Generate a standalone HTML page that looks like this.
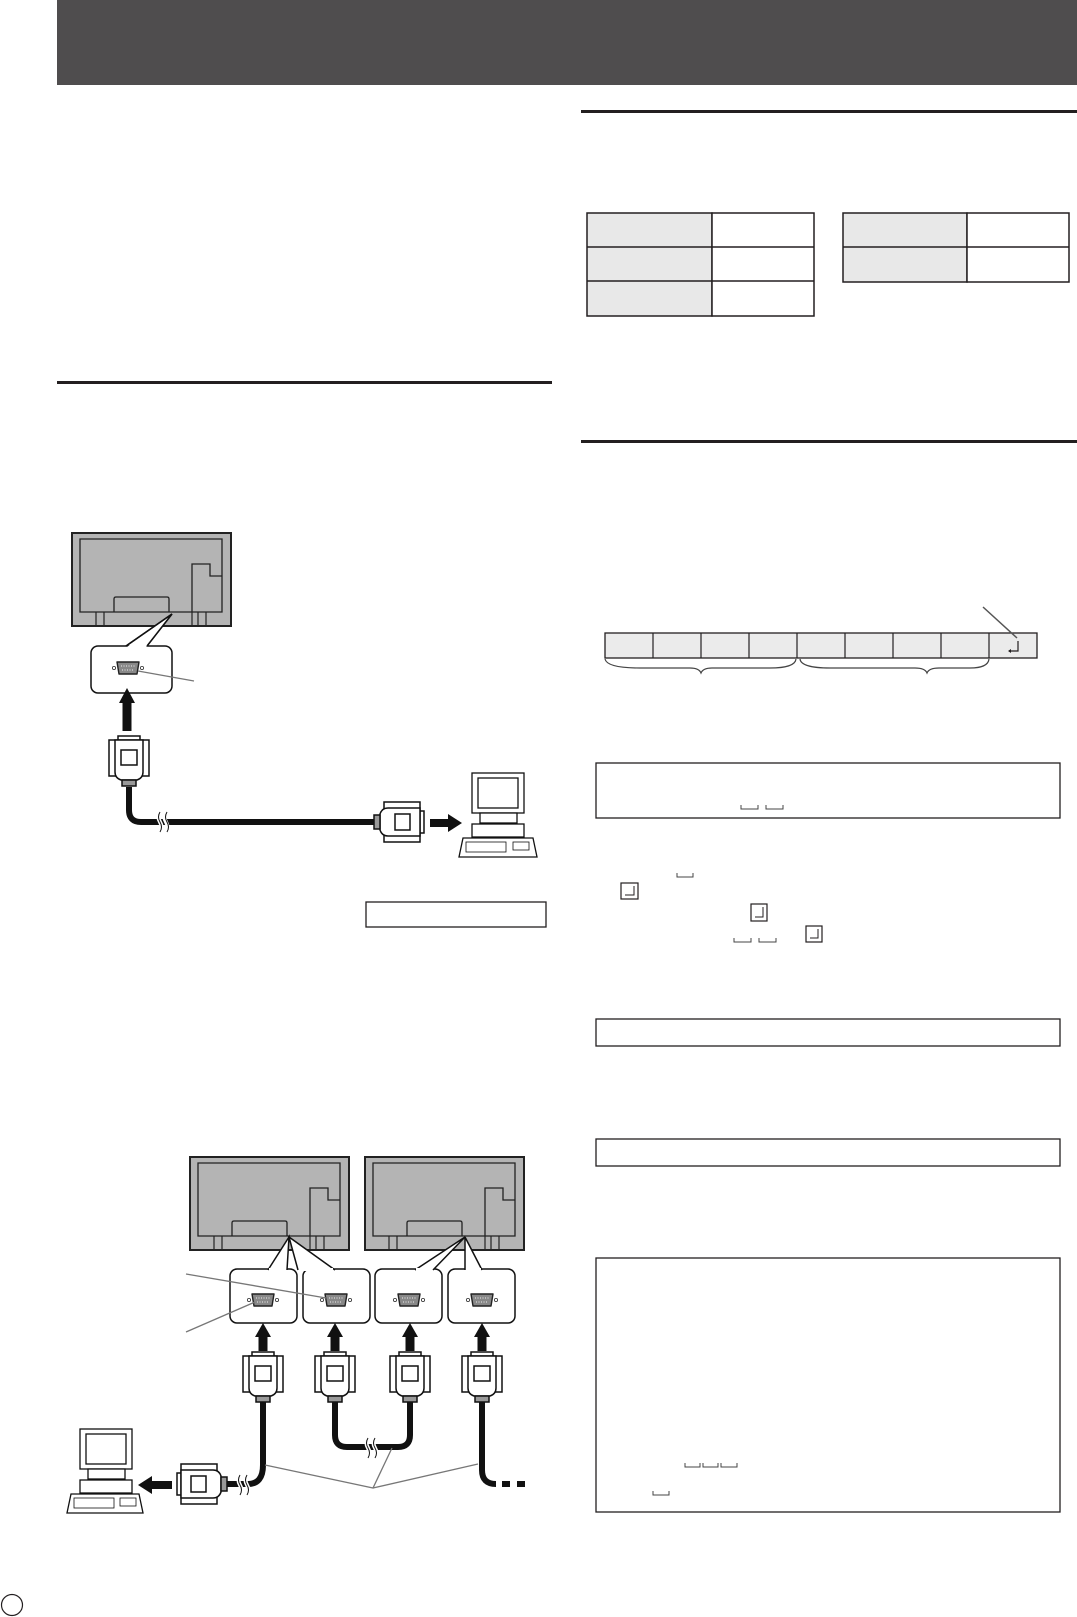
<!DOCTYPE html>
<html><head><meta charset="utf-8"><style>
html,body{margin:0;padding:0;background:#fff;}
svg{display:block;}
</style></head><body>
<svg width="1077" height="1617" viewBox="0 0 1077 1617" xmlns="http://www.w3.org/2000/svg" font-family="Liberation Sans, sans-serif">
<defs>
<g id="mon">
<rect x="0" y="0" width="159" height="93" fill="#b4b4b4" stroke="#222" stroke-width="2"/>
<path d="M8 79 V6 H150 V79 Z" fill="none" stroke="#222" stroke-width="1.3"/>
<path d="M120 79 V31 H138 V43 H150" fill="none" stroke="#222" stroke-width="1.3"/>
<path d="M42 79 V66 Q42 64 44 64 H95 Q97 64 97 66 V79" fill="none" stroke="#222" stroke-width="1.3"/>
<path d="M24 79 V93 M32 79 V93 M120 79 V93 M126 79 V93 M134 79 V93" stroke="#222" stroke-width="1.2"/>
</g>
<g id="port">
<circle cx="-14" cy="0" r="1.6" fill="none" stroke="#333" stroke-width="0.8"/>
<circle cx="14" cy="0" r="1.6" fill="none" stroke="#333" stroke-width="0.8"/>
<path d="M-11 -6 H11 L9 6 H-9 Z" fill="#888" stroke="#222" stroke-width="1.4" stroke-linejoin="round"/>
<path d="M-7 -2 H7 M-6 2 H6" stroke="#eee" stroke-width="1" stroke-dasharray="1 1.5"/>
</g>
<g id="vplug" stroke="#111" stroke-width="1.5" fill="#fff">
<rect x="-11" y="0" width="22" height="5"/>
<rect x="-20" y="4" width="40" height="36"/>
<path d="M-14 4 V36 Q-14 42 -8 44 H8 Q14 42 14 36 V4 Z"/>
<rect x="-8" y="14" width="16" height="15"/>
<rect x="-7" y="44" width="14" height="6" fill="#999"/>
</g>
<g id="callout">
<rect x="0" y="0" width="67" height="54" rx="7" fill="#fff" stroke="#111" stroke-width="1.5"/>
</g>
</defs>

<!-- header -->
<rect x="57" y="0" width="1020" height="85" fill="#4f4d4e"/>

<!-- rules -->
<rect x="581" y="110" width="496" height="3" fill="#231f20"/>
<rect x="57" y="381" width="495" height="3" fill="#231f20"/>
<rect x="581" y="440" width="496" height="3" fill="#231f20"/>

<!-- tables -->
<g stroke="#231f20" stroke-width="1.5">
<rect x="587" y="213" width="125" height="103" fill="#e8e8e8"/>
<rect x="712" y="213" width="102" height="103" fill="#fff"/>
<line x1="587" y1="247" x2="814" y2="247"/>
<line x1="587" y1="281" x2="814" y2="281"/>
<rect x="843" y="213" width="124" height="69" fill="#e8e8e8"/>
<rect x="967" y="213" width="102" height="69" fill="#fff"/>
<line x1="843" y1="247" x2="1069" y2="247"/>
</g>

<!-- command bar -->
<rect x="605" y="633" width="432" height="25" fill="#ebebeb" stroke="#231f20" stroke-width="1.3"/>
<g stroke="#231f20" stroke-width="1.2">
<line x1="653" y1="633" x2="653" y2="658"/><line x1="701" y1="633" x2="701" y2="658"/>
<line x1="749" y1="633" x2="749" y2="658"/><line x1="797" y1="633" x2="797" y2="658"/>
<line x1="845" y1="633" x2="845" y2="658"/><line x1="893" y1="633" x2="893" y2="658"/>
<line x1="941" y1="633" x2="941" y2="658"/><line x1="989" y1="633" x2="989" y2="658"/>
</g>
<path d="M1018 641 V651 H1009" fill="none" stroke="#231f20" stroke-width="1.2"/>
<path d="M1008 651 l3 -2 v4 z" fill="#231f20"/>
<line x1="983" y1="607" x2="1017" y2="638" stroke="#555" stroke-width="1.5"/>
<path d="M605 659 Q607 668 640 668 H690 Q699 668 701 673 Q703 668 712 668 H770 Q795 668 796 659" fill="none" stroke="#444" stroke-width="1.2"/>
<path d="M800 659 Q801 668 830 668 H915 Q925 668 927 673 Q929 668 939 668 H970 Q988 668 989 659" fill="none" stroke="#444" stroke-width="1.2"/>

<!-- boxes -->
<g fill="none" stroke="#231f20" stroke-width="1.3">
<rect x="596" y="763" width="464" height="55"/>
<rect x="596" y="1019" width="464" height="27"/>
<rect x="596" y="1139" width="464" height="27"/>
<rect x="596" y="1258" width="464" height="254"/>
<rect x="366" y="902" width="180" height="25"/>
</g>
<g fill="none" stroke="#444" stroke-width="1">
<path d="M741 805 V809 H758 V805"/><path d="M766 805 V809 H783 V805"/>
<path d="M677 873 V877 H693 V873"/>
<path d="M734 938 V942 H751 V938"/><path d="M759 938 V942 H776 V938"/>
<path d="M685 1463 V1467 H700 V1463"/><path d="M703 1463 V1467 H718 V1463"/><path d="M721 1463 V1467 H737 V1463"/>
<path d="M653 1491 V1495 H669 V1491"/>
</g>
<g fill="#fff" stroke="#231f20" stroke-width="1.2">
<rect x="621" y="883" width="17" height="16"/>
<rect x="751" y="904" width="16" height="17"/>
<rect x="806" y="926" width="16" height="16"/>
</g>
<g fill="none" stroke="#231f20" stroke-width="1">
<path d="M634 886 V895 H625"/><path d="M763 907 V917 H755"/><path d="M818 929 V938 H810"/>
</g>

<!-- page circle -->
<circle cx="12" cy="1605" r="10.5" fill="none" stroke="#231f20" stroke-width="1.2"/>

<!-- ===== Diagram 1 ===== -->
<use href="#mon" x="72" y="533"/>
<path d="M126 646 L172 614 L147 646" fill="#fff" stroke="#111" stroke-width="1.5"/>
<rect x="91" y="646" width="81" height="47" rx="7" fill="#fff" stroke="#111" stroke-width="1.5"/>
<path d="M127 647 L172 615 L146 647" fill="#fff" stroke="none"/>
<path d="M126 646 L172 614 L147 646" fill="none" stroke="#111" stroke-width="1.5"/>
<use href="#port" x="128" y="668"/>
<line x1="138" y1="671" x2="194" y2="681" stroke="#777" stroke-width="1.3"/>
<path d="M122.5 731 V703 H119 L127 688 L135 703 H131.5 V731 Z" fill="#111"/>
<use href="#vplug" x="129" y="736"/>
<path d="M129 787 V810 Q129 822 141 822 H375" fill="none" stroke="#111" stroke-width="6"/>
<path d="M160 812 q-3 5 0 10 q3 5 0 10 M166 812 q-3 5 0 10 q3 5 0 10" stroke="#fff" stroke-width="4" fill="none"/>
<path d="M160 812 q-3 5 0 10 q3 5 0 10 M167 812 q-3 5 0 10 q3 5 0 10" stroke="#111" stroke-width="1" fill="none"/>
<use href="#vplug" transform="translate(424 822) rotate(90)"/>
<path d="M430 819 H448 V814 L462 823 L448 832 V827 H430 Z" fill="#111"/>
<!-- PC1 -->
<g stroke="#111" stroke-width="1.3" fill="#fff">
<rect x="472" y="773" width="52" height="40"/>
<rect x="478" y="778" width="40" height="30"/>
<rect x="480" y="813" width="37" height="10"/>
<rect x="472" y="824" width="52" height="13"/>
<path d="M463 838 H533 L537 857 H459 Z"/>
<rect x="466" y="842" width="40" height="10" fill="none" stroke-width="0.8"/>
<rect x="513" y="842" width="16" height="8" fill="none" stroke-width="0.8"/>
</g>

<!-- ===== Diagram 2 ===== -->
<use href="#mon" x="190" y="1157"/>
<use href="#mon" x="365" y="1157"/>
<use href="#callout" x="230" y="1269"/>
<use href="#callout" x="303" y="1269"/>
<use href="#callout" x="375" y="1269"/>
<use href="#callout" x="448" y="1269"/>
<g fill="#fff" stroke="#111" stroke-width="1.5" stroke-linejoin="miter">
<path d="M268 1270 L289 1237 L287 1270"/>
<path d="M298 1270 L289 1237 L335 1270"/>
<path d="M415 1270 L465 1237 L433 1270"/>
<path d="M465 1270 L465 1237 L482 1270"/>
</g>
<g fill="#fff">
<rect x="269" y="1268" width="17" height="3"/><rect x="299" y="1268" width="34" height="3"/>
<rect x="416" y="1268" width="16" height="3"/><rect x="466" y="1268" width="15" height="3"/>
</g>
<use href="#port" x="263" y="1300"/>
<use href="#port" x="336" y="1300"/>
<use href="#port" x="409" y="1300"/>
<use href="#port" x="482" y="1300"/>
<g fill="#111">
<path d="M258.5 1351 V1337 H255 L263 1323 L271 1337 H267.5 V1351 Z"/>
<path d="M330.5 1351 V1337 H327 L335 1323 L343 1337 H339.5 V1351 Z"/>
<path d="M405.5 1351 V1337 H402 L410 1323 L418 1337 H414.5 V1351 Z"/>
<path d="M477.5 1351 V1337 H474 L482 1323 L490 1337 H486.5 V1351 Z"/>
</g>
<use href="#vplug" x="263" y="1352"/>
<use href="#vplug" x="335" y="1352"/>
<use href="#vplug" x="410" y="1352"/>
<use href="#vplug" x="482" y="1352"/>
<g fill="none" stroke="#111" stroke-width="6">
<path d="M263 1402 V1465 Q263 1484 248 1484 H224"/>
<path d="M335 1402 V1435 Q335 1447 347 1447 H398 Q410 1447 410 1435 V1402"/>
<path d="M482 1402 V1470 Q482 1484 496 1484"/>
</g>
<path d="M502 1484 H510 M517 1484 H525" stroke="#111" stroke-width="6"/>
<path d="M240 1475 q-3 5 0 10 q3 5 0 10 M247 1475 q-3 5 0 10 q3 5 0 10" stroke="#fff" stroke-width="4" fill="none"/>
<path d="M240 1475 q-3 5 0 10 q3 5 0 10 M247 1475 q-3 5 0 10 q3 5 0 10" stroke="#111" stroke-width="1" fill="none"/>
<path d="M368 1438 q-3 5 0 10 q3 5 0 10 M375 1438 q-3 5 0 10 q3 5 0 10" stroke="#fff" stroke-width="4" fill="none"/>
<path d="M368 1438 q-3 5 0 10 q3 5 0 10 M375 1438 q-3 5 0 10 q3 5 0 10" stroke="#111" stroke-width="1" fill="none"/>
<use href="#vplug" transform="translate(177 1484) rotate(-90)"/>
<path d="M172 1481 H152 V1476 L138 1485 L152 1494 V1489 H172 Z" fill="#111"/>
<!-- PC2 -->
<g stroke="#111" stroke-width="1.3" fill="#fff">
<rect x="80" y="1429" width="52" height="40"/>
<rect x="86" y="1434" width="40" height="30"/>
<rect x="88" y="1469" width="37" height="10"/>
<rect x="80" y="1480" width="52" height="13"/>
<path d="M71 1494 H139 L143 1513 H67 Z"/>
<rect x="74" y="1498" width="40" height="10" fill="none" stroke-width="0.8"/>
<rect x="120" y="1498" width="16" height="8" fill="none" stroke-width="0.8"/>
</g>
<!-- leaders -->
<g stroke="#777" stroke-width="1.3" fill="none">
<line x1="186" y1="1274" x2="326" y2="1298"/>
<line x1="186" y1="1332" x2="255" y2="1302"/>
<path d="M265 1465 L373 1488 L392 1448 M373 1488 L478 1464"/>
</g>
</svg>
</body></html>
